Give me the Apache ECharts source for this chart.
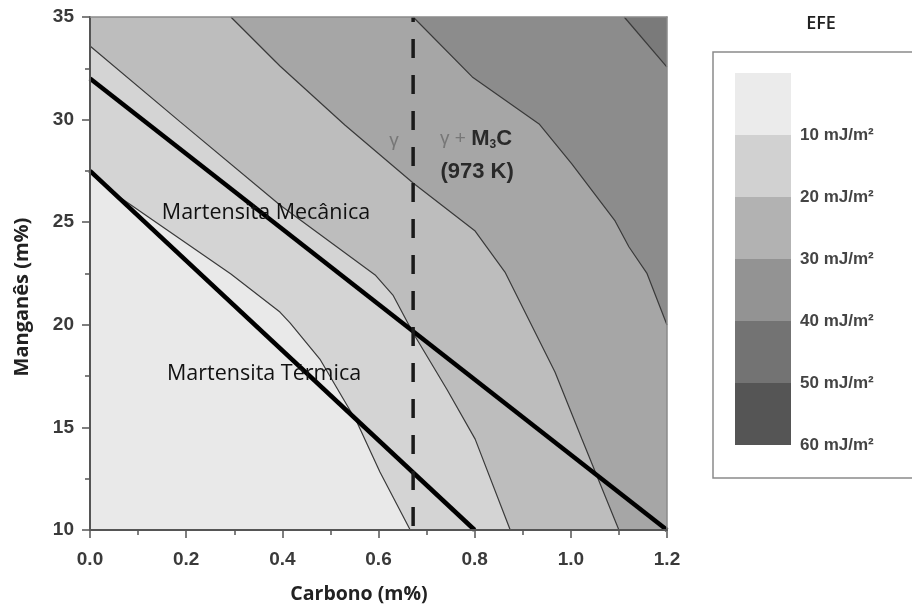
<!DOCTYPE html>
<html><head><meta charset="utf-8">
<script src="https://cdn.jsdelivr.net/npm/echarts@6/dist/echarts.min.js"></script>
<style>html,body{margin:0;padding:0;background:#fff}#c{width:912px;height:611px}</style>
</head><body><div id="c"></div>
<script>
// ---- axis ranges / ticks ----
const xMin = 0, xMax = 1.2, xStep = 0.2;
const yMin = 10, yMax = 35, yStep = 5;

// ---- EFE contour lines (Carbono %, Manganês %) ----
const contour10 = [[0,27.45],[0.037,26.62],[0.293,22.48],[0.395,20.62],[0.416,20.09],[0.478,18.33],[0.555,15.26],[0.603,12.83],[0.666,10]];
const contour20 = [[0,33.59],[0.187,29.9],[0.395,25.84],[0.593,22.43],[0.63,21.45],[0.672,19.6],[0.743,16.82],[0.801,14.43],[0.874,10]];
const contour30 = [[0.293,35],[0.395,32.61],[0.53,29.74],[0.672,26.91],[0.801,24.57],[0.863,22.57],[0.967,17.7],[1.023,14.43],[1.1,10]];
const contour40 = [[0.672,35],[0.795,32.08],[0.934,29.79],[1.002,27.84],[1.092,25.06],[1.121,23.79],[1.158,22.52],[1.2,19.99]];
const contour50 = [[1.111,35],[1.2,32.56]];
const bandColors = ['#e9e9e9','#d4d4d4','#bdbdbd','#a6a6a6','#8c8c8c','#7a7a7a'];

// ---- martensite boundaries and phase limit ----
const thermalBoundary = [[0,27.5],[0.8,10]];
const mechanicalBoundary = [[0,32],[1.2,10]];
const phaseLimitX = 0.672;

// ---- annotations ----
const regionNames = ['Martensita Mecânica','Martensita Térmica'];
const regionPos = [[0.366,25.45],[0.362,17.6]];
const phaseNames = ['γ','γ + M₃C','(973 K)'];
const phasePos = [[0.632,28.95],[0.803,29.05],[0.805,27.45]];

// ---- legend ----
const legendTitle = 'EFE';
const legendLevels = [0,10,20,30,40,50,60];
const legendColors = ['#ebebeb','#d1d1d1','#b2b2b2','#939393','#737373','#555555'];
const legendUnit = ' mJ/m²';

const contours = [contour10, contour20, contour30, contour40, contour50];

function regionPolygon(c) {
  const pts = c.slice();
  const first = c[0], last = c[c.length - 1];
  if (last[1] === yMin) pts.push([xMax, yMin]);
  pts.push([xMax, yMax]);
  if (first[0] === xMin) pts.push([xMin, yMax]);
  return pts;
}

const tickFont = {fontFamily:'"Liberation Sans", Arial, sans-serif', fontWeight:'bold', fontSize:19, color:'#3a3a3a'};
const noBorder = {textBorderWidth:0, textBorderColor:'transparent', textShadowBlur:0};

const chart = echarts.init(document.getElementById('c'), null, {renderer:'canvas'});
const option = {
  animation: false,
  backgroundColor: '#fff',
  grid: [
    {left:90, top:17, width:577, height:513, show:true, backgroundColor:bandColors[0], borderWidth:0},
    {left:735, top:73, width:56, height:372}
  ],
  xAxis: [
    {gridIndex:0, type:'value', min:xMin, max:xMax, interval:xStep, z:10,
     axisLine:{show:true, onZero:false, lineStyle:{color:'#555', width:2}},
     axisTick:{show:true, inside:false, length:8, lineStyle:{color:'#555', width:1.5}},
     minorTick:{show:true, splitNumber:2, length:5, lineStyle:{color:'#555', width:1.5}},
     splitLine:{show:false},
     axisLabel:Object.assign({margin:20, formatter:v=>v.toFixed(1)}, tickFont)},
    {gridIndex:0, type:'value', position:'top', min:xMin, max:xMax, z:10,
     axisLine:{show:true, onZero:false, lineStyle:{color:'#8a8a8a', width:1.5}},
     axisTick:{show:false}, axisLabel:{show:false}, splitLine:{show:false}},
    {gridIndex:1, type:'value', min:0, max:1, show:false}
  ],
  yAxis: [
    {gridIndex:0, type:'value', min:yMin, max:yMax, interval:yStep, z:10,
     axisLine:{show:true, onZero:false, lineStyle:{color:'#555', width:2}},
     axisTick:{show:true, inside:false, length:8, lineStyle:{color:'#555', width:1.5}},
     minorTick:{show:true, splitNumber:2, length:5, lineStyle:{color:'#555', width:1.5}},
     splitLine:{show:false},
     axisLabel:Object.assign({margin:16}, tickFont)},
    {gridIndex:0, type:'value', position:'right', min:yMin, max:yMax, z:10,
     axisLine:{show:true, onZero:false, lineStyle:{color:'#8a8a8a', width:1.5}},
     axisTick:{show:false}, axisLabel:{show:false}, splitLine:{show:false}},
    {gridIndex:1, type:'value', min:legendLevels[0], max:legendLevels[legendLevels.length-1], interval:10, inverse:true, position:'right',
     axisLine:{show:false}, axisTick:{show:false}, splitLine:{show:false},
     axisLabel:{margin:9, fontFamily:'"Liberation Sans", Arial, sans-serif', fontWeight:'bold', fontSize:17, color:'#444',
       formatter:v=> v === 0 ? '' : v + legendUnit}}
  ],
  series: [
    {type:'custom', xAxisIndex:0, yAxisIndex:0, clip:true, z:2, silent:true,
     data: contours.map(c=>c[0]),
     renderItem:(params, api)=>{
       const pts = regionPolygon(contours[params.dataIndex]).map(p=>api.coord(p));
       return {type:'polygon', shape:{points:pts}, style:{fill:bandColors[params.dataIndex+1], stroke:null}};
     }},
    ...contours.map(c=>({type:'line', xAxisIndex:0, yAxisIndex:0, data:c, showSymbol:false, symbol:'none', z:3, silent:true,
       lineStyle:{color:'#3a3a3a', width:1.2}})),
    {type:'line', data:thermalBoundary, symbol:'none', z:4, silent:true, lineStyle:{color:'#000', width:4.5}},
    {type:'line', data:mechanicalBoundary, symbol:'none', z:4, silent:true, lineStyle:{color:'#000', width:4.5}},
    {type:'line', data:[[phaseLimitX,yMin],[phaseLimitX,yMax]], symbol:'none', z:5, silent:true,
     lineStyle:{color:'#1a1a1a', width:3.5, type:[0,4,19,13]}},
    {type:'scatter', data:regionPos.map((p,i)=>({value:p, name:regionNames[i]})), symbolSize:0, z:6, silent:true,
     itemStyle:{color:'#111', opacity:1},
     label:Object.assign({show:true, opacity:1, position:'inside', formatter:p=>p.name, fontFamily:'"Open Sans", sans-serif', fontWeight:500, fontSize:21.5, color:'#111'}, noBorder)},
    {type:'scatter', data:phasePos.map((p,i)=>({value:p, name:phaseNames[i]})), symbolSize:0, z:6, silent:true,
     itemStyle:{color:'#333', opacity:1},
     label:Object.assign({show:true, opacity:1, position:'inside',
       formatter:p=>{
         if (p.dataIndex === 0) return '{g|γ}';
         if (p.dataIndex === 1) return '{g|γ + }{b|M}{s|3}{b|C}';
         return '{b|' + p.name + '}';
       },
       rich:{
         g:Object.assign({fontFamily:'"Liberation Sans", Arial, sans-serif', fontSize:19, color:'#777', lineHeight:24}, noBorder),
         b:Object.assign({fontFamily:'"Liberation Sans", Arial, sans-serif', fontWeight:'bold', fontSize:22, color:'#2a2a2a', lineHeight:24}, noBorder),
         s:Object.assign({fontFamily:'"Liberation Sans", Arial, sans-serif', fontWeight:'bold', fontSize:12, color:'#2a2a2a', lineHeight:24, verticalAlign:'bottom', padding:[12,0,0,0]}, noBorder)
       }}, noBorder)},
    {type:'custom', xAxisIndex:2, yAxisIndex:2, silent:true, z:2,
     data: legendColors.map((c,i)=>[legendLevels[i], legendLevels[i+1]]),
     renderItem:(params, api)=>{
       const p0 = api.coord([0, api.value(0)]);
       const p1 = api.coord([1, api.value(1)]);
       return {type:'rect', shape:{x:p0[0], y:p0[1], width:p1[0]-p0[0], height:p1[1]-p0[1]},
               style:{fill:legendColors[params.dataIndex], stroke:null}};
     }}
  ],
  graphic: [
    {type:'rect', shape:{x:713, y:52, width:260, height:426}, style:{fill:'none', stroke:'#8a8a8a', lineWidth:1.5}, silent:true},
    {type:'text', style:{text:legendTitle, x:821, y:24, align:'center', verticalAlign:'middle',
      font:'600 18px "Open Sans", sans-serif', fill:'#222'}},
    {type:'text', style:{text:'Carbono (m%)', x:359, y:594, align:'center', verticalAlign:'middle',
      font:'bold 19.5px "Open Sans", sans-serif', fill:'#222'}},
    {type:'text', x:22, y:297, rotation:Math.PI/2, style:{text:'Manganês (m%)', x:0, y:0, align:'center', verticalAlign:'middle',
      font:'bold 20px "Open Sans", sans-serif', fill:'#222'}}
  ]
};
chart.setOption(option);
</script></body></html>
